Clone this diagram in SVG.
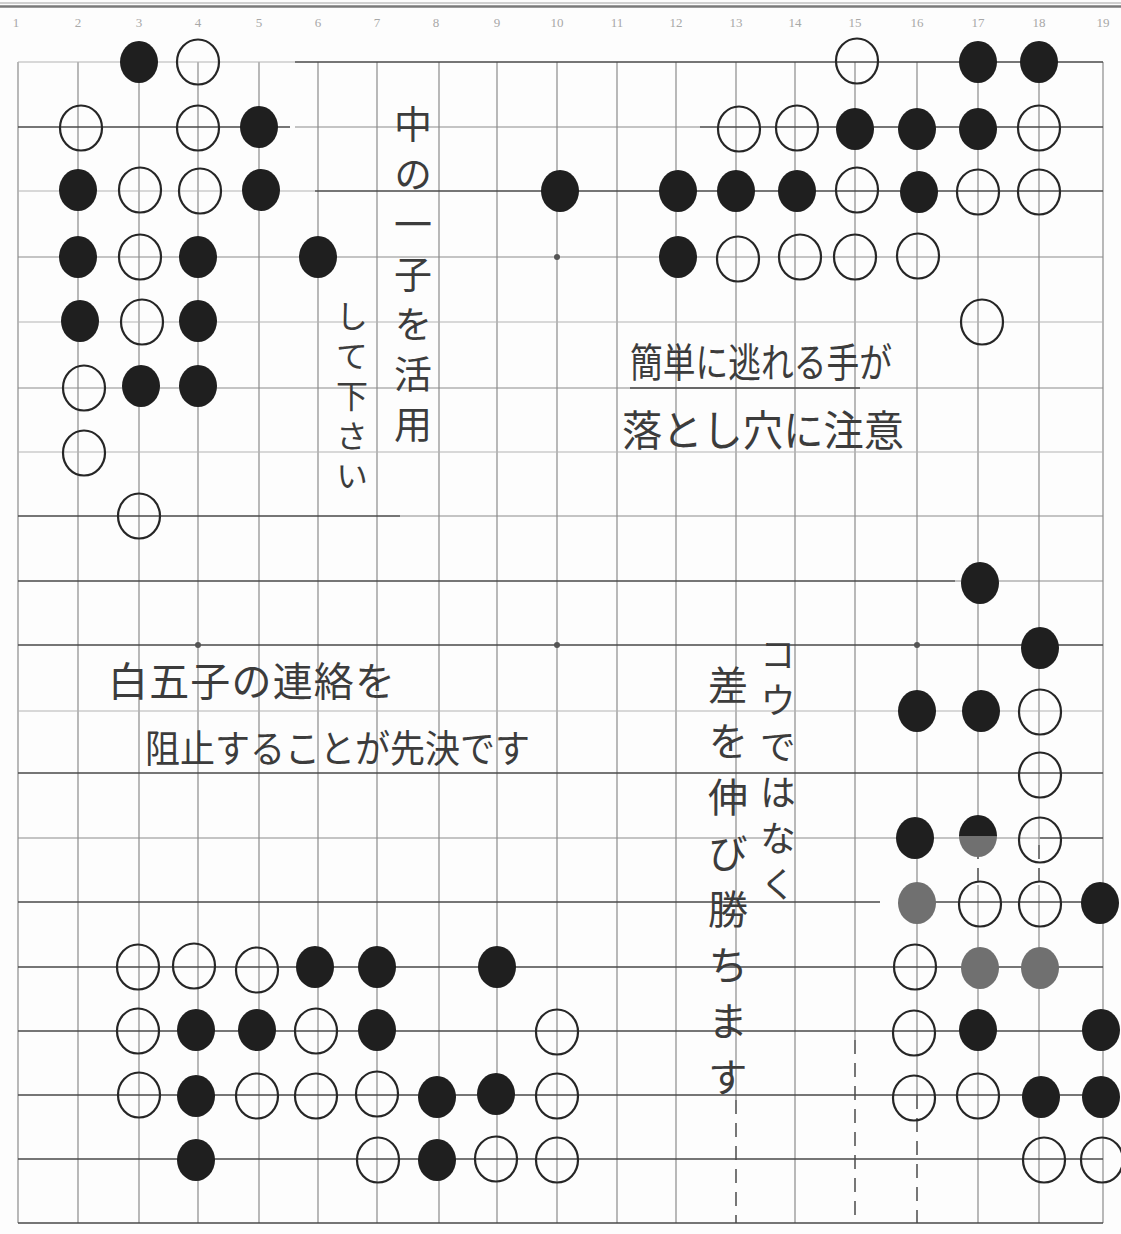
<svg xmlns="http://www.w3.org/2000/svg" width="1121" height="1234" viewBox="0 0 1121 1234">
<style>
.g{stroke:#8c8c8c;stroke-width:1.2;fill:none}
.gd{stroke:#4a4a4a;stroke-width:1.6;fill:none}
.gl{stroke:#b4b4b4;stroke-width:1.1;fill:none}
.dash{stroke:#555;stroke-width:1.6;stroke-dasharray:14 9;fill:none}
.lbl{font-family:"Liberation Serif",serif;font-size:13px;fill:#a8a8a8;text-anchor:middle}
.hw{font-family:"Noto Sans CJK JP","Noto Sans CJK SC",sans-serif;fill:#3c3c3c}
.vt{writing-mode:vertical-rl;text-orientation:upright}
</style>
<defs>
<ellipse id="bs" rx="19" ry="21" fill="#1f1f1f"/>
<ellipse id="ws" rx="21" ry="22.5" fill="none" stroke="#262626" stroke-width="2.2"/>
<ellipse id="gs" rx="19" ry="21" fill="#707070"/>
</defs>
<rect width="1121" height="1234" fill="#fdfdfd"/>
<line x1="0" y1="3" x2="1121" y2="3" stroke="#cfcfcf" stroke-width="2"/>
<line x1="0" y1="6.5" x2="1121" y2="6.5" stroke="#7a7a7a" stroke-width="2.5"/>

<g id="labels">
<text class="lbl" x="16" y="27">1</text><text class="lbl" x="78" y="27">2</text><text class="lbl" x="139" y="27">3</text><text class="lbl" x="198" y="27">4</text><text class="lbl" x="259" y="27">5</text><text class="lbl" x="318" y="27">6</text><text class="lbl" x="377" y="27">7</text><text class="lbl" x="436" y="27">8</text><text class="lbl" x="497" y="27">9</text><text class="lbl" x="557" y="27">10</text><text class="lbl" x="617" y="27">11</text><text class="lbl" x="676" y="27">12</text><text class="lbl" x="736" y="27">13</text><text class="lbl" x="795" y="27">14</text><text class="lbl" x="855" y="27">15</text><text class="lbl" x="917" y="27">16</text><text class="lbl" x="978" y="27">17</text><text class="lbl" x="1039" y="27">18</text><text class="lbl" x="1103" y="27">19</text>
</g>

<g id="grid">
<path class="g" d="M18 62V1223M78 62V1223M139 62V1223M198 62V1223M259 62V1223M318 62V1223M377 62V1223M439 62V1223M497 62V1223M557 62V1223M617 62V1223M676 62V1223M736 62V1100M795 62V1223M855 62V1040M917 62V1095M978 62V845M978 885V1223M1039 62V845M1039 885V1223M1103 62V1223"/>
<path class="dash" d="M736 1100V1223M855 1040V1223M917 1095V1223M978 845V885M1039 845V885"/>
<path class="gl" d="M18 62H295M18 191H315M18 322H1103M18 452H1103M18 711H1103"/>
<path class="g" d="M295 127H700M18 257H1103M18 388H1103M400 516H1103M955 581H1103M18 838H1040"/>
<path class="gd" d="M295 62H1103M18 127H290M700 127H1103M315 191H1103M630 388H860M18 516H400M18 581H955M18 645H1103M18 773H1103M1040 838H1103M18 902H880M935 902H1103M18 967H1103M18 1031H1103M18 1095H1103M18 1159H1103M18 1223H1103"/>
<g fill="#555">
<circle cx="557" cy="257" r="3"/><circle cx="198" cy="645" r="3"/><circle cx="557" cy="645" r="3"/><circle cx="917" cy="645" r="3"/>
</g>
</g>

<g id="black-stones">
<use href="#bs" x="139" y="62"/><use href="#bs" x="978" y="62"/><use href="#bs" x="1039" y="62"/>
<use href="#bs" x="259" y="127"/><use href="#bs" x="855" y="129"/><use href="#bs" x="917" y="129"/><use href="#bs" x="978" y="129"/>
<use href="#bs" x="78" y="190"/><use href="#bs" x="261" y="190"/><use href="#bs" x="560" y="191"/><use href="#bs" x="678" y="191"/><use href="#bs" x="736" y="191"/><use href="#bs" x="797" y="191"/><use href="#bs" x="919" y="192"/>
<use href="#bs" x="78" y="257"/><use href="#bs" x="198" y="257"/><use href="#bs" x="318" y="257"/><use href="#bs" x="678" y="257"/>
<use href="#bs" x="80" y="321"/><use href="#bs" x="198" y="321"/>
<use href="#bs" x="141" y="386"/><use href="#bs" x="198" y="386"/>
<use href="#bs" x="980" y="583"/>
<use href="#bs" x="1040" y="648"/>
<use href="#bs" x="917" y="711"/><use href="#bs" x="981" y="711"/>
<use href="#bs" x="915" y="838"/>
<use href="#bs" x="1100" y="903"/>
<use href="#bs" x="315" y="967"/><use href="#bs" x="377" y="967"/><use href="#bs" x="497" y="967"/>
<use href="#bs" x="196" y="1030"/><use href="#bs" x="257" y="1030"/><use href="#bs" x="377" y="1030"/><use href="#bs" x="978" y="1030"/><use href="#bs" x="1101" y="1030"/>
<use href="#bs" x="196" y="1096"/><use href="#bs" x="437" y="1097"/><use href="#bs" x="496" y="1094"/><use href="#bs" x="1041" y="1097"/><use href="#bs" x="1101" y="1097"/>
<use href="#bs" x="196" y="1160"/><use href="#bs" x="437" y="1160"/>
</g>

<g id="white-stones">
<use href="#ws" x="198" y="62"/><use href="#ws" x="857" y="61"/>
<use href="#ws" x="81" y="128"/><use href="#ws" x="198" y="128"/><use href="#ws" x="739" y="129"/><use href="#ws" x="797" y="128"/><use href="#ws" x="1039" y="128"/>
<use href="#ws" x="140" y="190"/><use href="#ws" x="200" y="191"/><use href="#ws" x="857" y="190"/><use href="#ws" x="978" y="192"/><use href="#ws" x="1039" y="192"/>
<use href="#ws" x="140" y="257"/><use href="#ws" x="738" y="259"/><use href="#ws" x="800" y="257"/><use href="#ws" x="855" y="257"/><use href="#ws" x="918" y="256"/>
<use href="#ws" x="142" y="322"/><use href="#ws" x="982" y="322"/>
<use href="#ws" x="84" y="388"/>
<use href="#ws" x="84" y="453"/>
<use href="#ws" x="139" y="516"/>
<use href="#ws" x="1040" y="712"/>
<use href="#ws" x="1040" y="775"/>
<use href="#ws" x="1040" y="840"/>
<use href="#ws" x="980" y="904"/><use href="#ws" x="1040" y="904"/>
<use href="#ws" x="915" y="967"/>
<use href="#ws" x="914" y="1033"/>
<use href="#ws" x="914" y="1098"/><use href="#ws" x="978" y="1096"/>
<use href="#ws" x="1044" y="1160"/><use href="#ws" x="1102" y="1160"/>
<use href="#ws" x="138" y="967"/><use href="#ws" x="194" y="966"/><use href="#ws" x="257" y="970"/>
<use href="#ws" x="138" y="1031"/><use href="#ws" x="316" y="1031"/><use href="#ws" x="557" y="1032"/>
<use href="#ws" x="139" y="1095"/><use href="#ws" x="257" y="1096"/><use href="#ws" x="316" y="1096"/><use href="#ws" x="377" y="1094"/><use href="#ws" x="557" y="1096"/>
<use href="#ws" x="378" y="1160"/><use href="#ws" x="496" y="1159"/><use href="#ws" x="557" y="1160"/>
</g>

<g id="grey-stones">
<use href="#gs" x="917" y="903"/><use href="#gs" x="980" y="968"/><use href="#gs" x="1040" y="968"/>
<g transform="translate(978 838)">
<path d="M-19 -2A19 21 0 0 1 19 -2Z" fill="#1f1f1f"/>
<path d="M-19 -2A19 21 0 0 0 19 -2Z" fill="#707070"/>
</g>
</g>

<g id="notes">
<text class="hw vt" font-size="38" letter-spacing="12" x="413" y="105">中の一子を活用</text>
<text class="hw vt" font-size="32" letter-spacing="8" x="352" y="300">して下さい</text>
<text class="hw" font-size="40" x="630" y="377" textLength="262" lengthAdjust="spacingAndGlyphs">簡単に逃れる手が</text>
<text class="hw" font-size="42" x="622" y="446" textLength="282" lengthAdjust="spacingAndGlyphs">落とし穴に注意</text>
<text class="hw" font-size="40" x="108" y="696" textLength="287" lengthAdjust="spacing">白五子の連絡を</text>
<text class="hw" font-size="38" x="145" y="762" textLength="385" lengthAdjust="spacingAndGlyphs">阻止することが先決です</text>
<text class="hw vt" font-size="36" letter-spacing="10" x="778" y="636">コウではなく</text>
<text class="hw vt" font-size="40" letter-spacing="16" x="728" y="665">差を伸び勝ちます</text>
</g>
</svg>
